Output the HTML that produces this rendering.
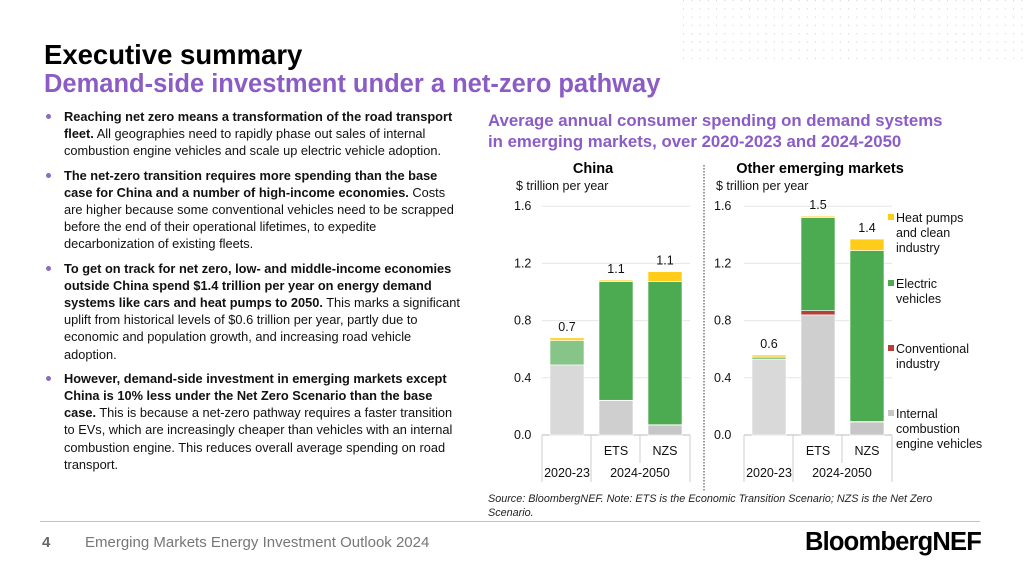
<!DOCTYPE html>
<html><head><meta charset="utf-8"><style>
body{margin:0;width:1024px;height:576px;overflow:hidden;background:#fff;font-family:"Liberation Sans",sans-serif;position:relative}
.a{position:absolute}
ul{margin:0;padding:0;list-style:none}
li{position:relative;padding-left:22px;font-size:12.8px;line-height:17.2px;color:#111;margin-bottom:7px}
li:before{content:"";position:absolute;left:4px;top:6px;width:5px;height:5px;border-radius:50%;background:#8a6cc0}
</style></head><body>
<svg class="a" style="left:680px;top:0" width="344" height="62">
<defs><pattern id="p" x="4" y="0" width="8.25" height="8.25" patternUnits="userSpaceOnUse"><circle cx="8.25" cy="0.5" r="0.9" fill="#d0d0d0"/></pattern></defs>
<rect width="344" height="60" fill="url(#p)"/></svg>
<div class="a" style="left:44px;top:39px;font-size:27.5px;font-weight:bold;color:#000">Executive summary</div>
<div class="a" style="left:44px;top:70px;font-size:25.5px;font-weight:bold;color:#8c5cc6">Demand-side investment under a net-zero pathway</div>
<ul class="a" style="left:42px;top:108px;width:418px">
<li><b>Reaching net zero means a transformation of the road transport fleet.</b> All geographies need to rapidly phase out sales of internal combustion engine vehicles and scale up electric vehicle adoption.</li>
<li><b>The net-zero transition requires more spending than the base case for China and a number of high-income economies.</b> Costs are higher because some conventional vehicles need to be scrapped before the end of their operational lifetimes, to expedite decarbonization of existing fleets.</li>
<li><b>To get on track for net zero, low- and middle-income economies outside China spend $1.4 trillion per year on energy demand systems like cars and heat pumps to 2050.</b> This marks a significant uplift from historical levels of $0.6 trillion per year, partly due to economic and population growth, and increasing road vehicle adoption.</li>
<li><b>However, demand-side investment in emerging markets except China is 10% less under the Net Zero Scenario than the base case.</b> This is because a net-zero pathway requires a faster transition to EVs, which are increasingly cheaper than vehicles with an internal combustion engine. This reduces overall average spending on road transport.</li>
</ul>
<div class="a" style="left:488px;top:110px;font-size:16.8px;line-height:21px;font-weight:bold;color:#8c5cc6">Average annual consumer spending on demand systems<br>in emerging markets, over 2020-2023 and 2024-2050</div>
<svg class="a" id="ch" style="left:0;top:0" width="1024" height="576"></svg>
<div class="a" style="left:488px;top:492px;font-size:10.8px;line-height:14px;font-style:italic;color:#222;width:480px">Source: BloombergNEF. Note: ETS is the Economic Transition Scenario; NZS is the Net Zero Scenario.</div>
<div class="a" style="left:40px;top:521px;width:940px;height:1px;background:#c9b8e2"></div>
<div class="a" style="left:42px;top:534px;font-size:15px;font-weight:bold;color:#666">4</div>
<div class="a" style="left:85px;top:534px;font-size:15px;color:#777">Emerging Markets Energy Investment Outlook 2024</div>
<div class="a" style="left:805px;top:528px;font-size:25.5px;font-weight:bold;color:#000;letter-spacing:-0.8px">BloombergNEF</div>
<script>
const categories=["2020-23","ETS","NZS"];
const seriesNames=["Internal combustion engine vehicles","Conventional industry","Electric vehicles","Heat pumps and clean industry"];
const chinaICE=[0.49,0.24,0.07];
const chinaConv=[0,0.003,0.002];
const chinaEV=[0.17,0.83,1.0];
const chinaHeat=[0.02,0.01,0.07];
const chinaTotals=["0.7","1.1","1.1"];
const otherICE=[0.53,0.84,0.09];
const otherConv=[0,0.03,0.005];
const otherEV=[0.015,0.65,1.195];
const otherHeat=[0.015,0.01,0.08];
const otherTotals=["0.6","1.5","1.4"];
const ticks=[0,0.4,0.8,1.2,1.6];
const NS="http://www.w3.org/2000/svg",svg=document.getElementById('ch');
function el(t,a,txt){const e=document.createElementNS(NS,t);for(const k in a)e.setAttribute(k,a[k]);if(txt!=null)e.textContent=txt;svg.appendChild(e);return e;}
const y0=435,py=143;
function Y(v){return y0-v*py;}
function panel(x0,bx,name,data,totals,title,tx){
  el('text',{x:tx,y:173,'font-size':14.5,'font-weight':'bold','text-anchor':'middle',fill:'#000',},title);
  el('text',{x:x0+16,y:190,'font-size':12.5,fill:'#111',},'$ trillion per year');
  ticks.forEach(t=>{
    const l=el('line',{x1:bx-8,x2:bx+140,y1:Y(t),y2:Y(t),stroke:t?'#e6e6e6':'#bbb'});
    
    const tt=el('text',{x:x0+14,y:Y(t)+4,'font-size':12.5,fill:'#111'},t.toFixed(1));
    
  });
  const cols=[['#d9d9d9','#cfcfcf','#c6c6c6'],['#b5403b','#b5403b','#b5403b'],['#86c487','#4caa50','#4caa50'],['#ffd43b','#ffcc1a','#ffcc1a']];
  categories.forEach((c,i)=>{
    const x=bx+i*49;let acc=0;
    data.forEach((s,j)=>{const v=s[i];if(v<=0)return;
      const r=el('rect',{x:x,y:Y(acc+v),width:34,height:v*py,fill:cols[j][i],stroke:'#fff','stroke-width':0.6});
      
      acc+=v;});
    const lb=el('text',{x:x+17,y:Y(acc)-7,'font-size':12.5,'text-anchor':'middle',fill:'#111'},totals[i]);
    
    if(i>0){const ct=el('text',{x:x+17,y:455,'font-size':12.5,'text-anchor':'middle',fill:'#111'},c);
      }
  });
  [bx-8,bx+41,bx+90,bx+140].forEach((x,k)=>{el('line',{x1:x,x2:x,y1:435,y2:(k==2?463:482),stroke:'#ccc'});});
  el('text',{x:bx+17,y:477,'font-size':12.5,'text-anchor':'middle',fill:'#111',},'2020-23');
  el('text',{x:bx+90,y:477,'font-size':12.5,'text-anchor':'middle',fill:'#111',},'2024-2050');
}
panel(500,550,'china',[chinaICE,chinaConv,chinaEV,chinaHeat],chinaTotals,'China',593);
panel(700,752,'other',[otherICE,otherConv,otherEV,otherHeat],otherTotals,'Other emerging markets',820);
el('line',{x1:704,x2:704,y1:165,y2:492,stroke:'#999','stroke-width':2,'stroke-dasharray':'1.5,1.5',});
const leg=[['#ffcc1a',['Heat pumps','and clean','industry'],222],['#4caa50',['Electric','vehicles'],288],['#b5403b',['Conventional','industry'],353],['#c6c6c6',['Internal','combustion','engine vehicles'],418]];
leg.forEach(l=>{
  const r=el('rect',{x:888,y:l[2]-8,width:6,height:6,fill:l[0]});
  
  l[1].forEach((t,k)=>{const tx=el('text',{x:896,y:l[2]+k*15,'font-size':12.5,fill:'#111'},t);
    });
});
</script>
</body></html>
